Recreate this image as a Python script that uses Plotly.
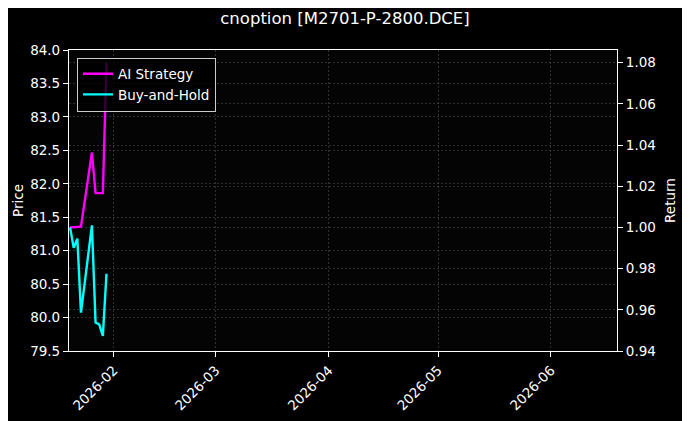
import plotly.graph_objects as go

# Datos
dates = ["2026-01-20", "2026-01-21", "2026-01-22", "2026-01-23",
         "2026-01-26", "2026-01-27", "2026-01-28", "2026-01-29", "2026-01-30"]
ai_strategy = [1.0, 1.0001, 1.0002, 1.0004, 1.0364, 1.0167, 1.0167, 1.0167, 1.0799]
buy_and_hold = [1.0, 0.9901, 0.9946, 0.9586, 1.0010, 0.9538, 0.9529, 0.9473, 0.9775]

price_range = [79.5, 84.0]
return_range = [0.94, 1.0862]
x_range = ["2026-01-19 17:00", "2026-06-19 03:00"]

FONT = "DejaVu Sans"
grid = "rgba(120,120,120,0.38)"
OFF = 8  # margen por defecto del <body> en la página

fig = go.Figure()

# Eje de precio (sin serie visible, solo para que se dibuje el eje izquierdo)
fig.add_trace(go.Scatter(x=[], y=[], mode="lines", showlegend=False,
                         hoverinfo="skip", yaxis="y"))

fig.add_trace(go.Scatter(
    x=dates, y=ai_strategy, name="AI Strategy", mode="lines",
    line=dict(color="#ff00ff", width=2.4), yaxis="y2"
))
fig.add_trace(go.Scatter(
    x=dates, y=buy_and_hold, name="Buy-and-Hold", mode="lines",
    line=dict(color="#00ffff", width=2.4), yaxis="y2"
))

fig.update_layout(
    width=690, height=421,
    margin=dict(l=69 - OFF, r=73 + OFF, t=50 - OFF, b=70 + OFF),
    paper_bgcolor="#000000",
    plot_bgcolor="#040404",
    font=dict(family=FONT, size=13.5, color="white"),
    title=dict(text="cnoption [M2701-P-2800.DCE]", x=(345 - OFF) / 690,
               xref="container", y=1 - (18 - OFF) / 421, yref="container",
               yanchor="middle", xanchor="center",
               font=dict(size=16.5, color="white")),
    showlegend=True,
    legend=dict(x=0.0146, y=0.975, xanchor="left", yanchor="top",
                bgcolor="rgba(0,0,0,0.8)", bordercolor="#cccccc", borderwidth=1,
                itemwidth=30, tracegroupgap=0,
                font=dict(size=13.5, color="white")),
    xaxis=dict(
        type="date", range=x_range, tick0="2026-02-01", dtick="M1",
        tickformat="%Y-%m", tickangle=-45, automargin=False,
        showline=True, linecolor="white", linewidth=1.2, mirror=True,
        ticks="outside", ticklen=5, tickcolor="white",
        showgrid=True, gridcolor=grid, griddash="2px,2px", gridwidth=0.8,
        zeroline=False,
    ),
    yaxis=dict(
        title=dict(text="Price", standoff=3, font=dict(size=13.5)),
        range=price_range, dtick=0.5,
        tickformat=".1f", automargin=False,
        showline=True, linecolor="white", linewidth=1.2,
        ticks="outside", ticklen=5, tickcolor="white",
        showgrid=True, gridcolor=grid, griddash="2px,2px", gridwidth=0.8,
        zeroline=False,
    ),
    yaxis2=dict(
        title=dict(text="Return", standoff=10, font=dict(size=13.5)),
        range=return_range, dtick=0.02,
        tickformat=".2f", overlaying="y", side="right", automargin=False,
        showline=True, linecolor="white", linewidth=1.2,
        ticks="outside", ticklen=5, tickcolor="white",
        showgrid=True, gridcolor=grid, griddash="2px,2px", gridwidth=0.8,
        zeroline=False,
    ),
)

fig.write_html("out.html")
